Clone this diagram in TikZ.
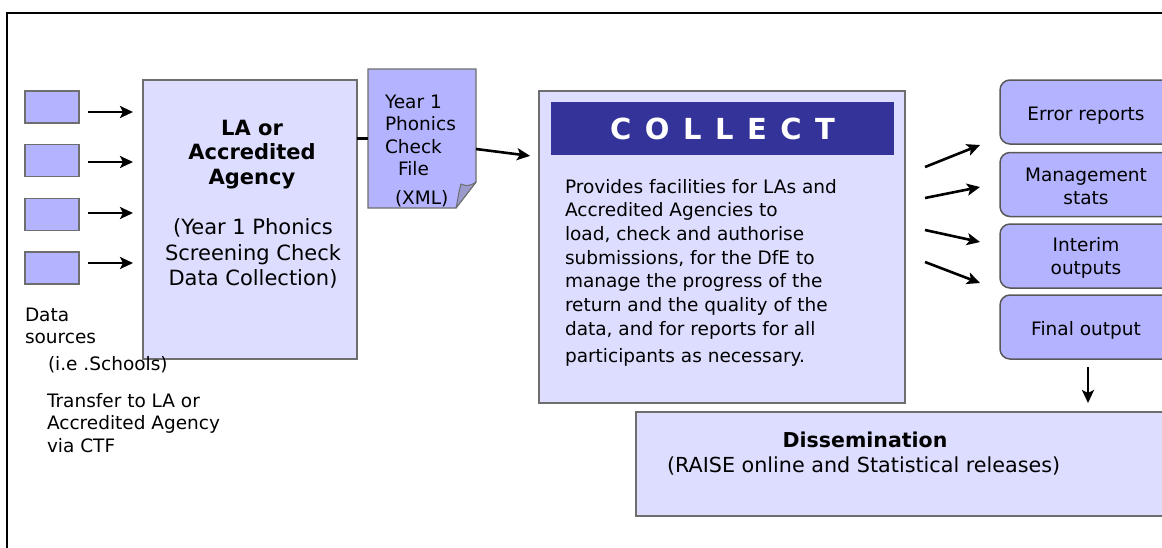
\documentclass[tikz,border=0pt]{standalone}
\usepackage{fontspec}
\setmainfont{DejaVu Sans}
\usetikzlibrary{arrows.meta}

\definecolor{boxpale}{HTML}{DDDDFF}
\definecolor{boxperi}{HTML}{B3B3FF}
\definecolor{boxedge}{HTML}{6E6E6E}
\definecolor{bandnavy}{HTML}{333399}
\definecolor{foldshade}{HTML}{9A9ACC}

\newcommand{\fsz}[2]{\fontsize{#1}{#2}\selectfont}
\newcommand{\gap}{\hspace{13.5pt}}

\begin{document}
\begin{tikzpicture}[x=1pt,y=-1pt,
  every node/.style={inner sep=0pt, outer sep=0pt},
  srcbox/.style={draw=boxedge, line width=1.5pt, fill=boxperi, minimum width=54pt, minimum height=32pt},
  pale/.style={draw=boxedge, line width=1.2pt, fill=boxpale},
  outbox/.style={draw=boxedge!80!black, line width=1.5pt, fill=boxperi, rounded corners=10pt,
    minimum width=172pt, minimum height=64pt},
  outtxt/.style={align=center, font=\fsz{18.5}{23}},
  arr/.style={-{Stealth[length=13pt,width=12pt,inset=3pt]}, line width=2.6pt},
  link/.style={line width=2.4pt},
  txt/.style={font=\fsz{18.5}{22.5}, align=left},
]
\useasboundingbox (0,0) rectangle (1162,547);

% outer frame
\draw[line width=2pt] (7,550) -- (7,13) -- (1170,13);

% data sources
\node[srcbox] (s1) at (52,107) {};
\node[srcbox] (s2) at (52,160.5) {};
\node[srcbox] (s3) at (52,214.5) {};
\node[srcbox] (s4) at (52,268) {};

% LA or accredited agency
\node[pale, minimum width=214pt, minimum height=279pt] (la) at (250,219.5) {};
\node[anchor=north, font=\bfseries\fsz{21}{24.5}, align=center] (latitle) at (252,120) {LA or\\Accredited\\Agency};
\node[anchor=north, font=\fsz{21}{25.5}, align=center] (lasub) at (253,219) {(Year 1 Phonics\\Screening Check\\Data Collection)};

\foreach \i/\dy in {1/-5,2/-1.5,3/1.5,4/5}
  \draw[arr, shorten <=9pt, shorten >=10pt] ([yshift=\dy pt]s\i.east) -- ([yshift=\dy pt]s\i.east -| la.west);

% labels under the sources
\node[anchor=north west, txt] (srclbl) at (25,308) {Data\\sources};
\node[anchor=north west, txt] (schools) at (48,356) {(i.e .Schools)};
\node[anchor=north west, txt] (ctf) at (47,393) {Transfer to LA or\\Accredited Agency\\via CTF};

% XML file (dog-eared page)
\node[minimum width=108pt, minimum height=139pt] (file) at (422,138.5) {};
\draw[fill=boxperi, draw=boxedge, line width=1.2pt]
  (file.north west) -- (file.north east) -- ([yshift=26pt]file.south east)
  -- ([xshift=-20pt]file.south east) -- (file.south west) -- cycle;
\draw[fill=foldshade, draw=boxedge, line width=1pt, line join=round]
  (456,208) .. controls (458,199) and (459,190) .. (461,184)
  .. controls (467,187) and (472,185) .. (476,182) -- cycle;
\node[anchor=north west, txt] (filetxt) at (385,95)
  {Year 1\\Phonics\\Check\\\hspace*{13pt}File\\[6.5pt]\hspace*{10pt}(XML)};

\draw[link] (la.east |- file.west) -- (file.west);

% COLLECT
\node[pale, minimum width=366pt, minimum height=312pt] (collect) at (722,247) {};
\node[fill=bandnavy, minimum width=343pt, minimum height=53pt, text=white,
  font=\bfseries\fsz{29}{34}] (band) at (722.5,128.5)
  {C\gap O\gap L\gap L\gap E\gap C\gap T};
\node[anchor=north west, txt, font=\fsz{18.5}{23.7}] (body) at (565,179)
  {Provides facilities for LAs and\\Accredited Agencies to\\load, check and authorise\\submissions, for the DfE to\\manage the progress of the\\return and the quality of the\\data, and for reports for all\\[4pt]participants as necessary.};

\draw[arr, shorten >=9pt] ([yshift=-10.5pt]file.east) -- ([yshift=90pt]collect.west);

% outputs
\node[outbox] (o1) at (1086,112) {};
\node[outbox] (o2) at (1086,184.5) {};
\node[outbox] (o3) at (1086,256) {};
\node[outbox] (o4) at (1086,327) {};
\node[outtxt] (t1) at ([yshift=-3.5pt]o1) {Error reports};
\node[outtxt] (t2) at ([yshift=-1.5pt]o2) {Management\\stats};
\node[outtxt] (t3) at ([yshift=-2pt]o3) {Interim\\outputs};
\node[outtxt] (t4) at ([yshift=-3pt]o4) {Final output};

\draw[arr] ([shift={(20,-80)}]collect.east) -- ([shift={(-20,33)}]o1.west);
\draw[arr] ([shift={(20,-49)}]collect.east) -- ([shift={(-20,2.5)}]o2.west);
\draw[arr] ([shift={(20,-17)}]collect.east) -- ([shift={(-20,-14)}]o3.west);
\draw[arr] ([shift={(20,15)}]collect.east) -- ([shift={(-20,-44)}]o4.west);

% dissemination
\node[pale, minimum width=544pt, minimum height=104pt] (diss) at (908,464) {};
\node[anchor=base, font=\bfseries\fsz{20.5}{24}] (disstitle) at (865,447) {Dissemination};
\node[anchor=base west, font=\fsz{20.7}{24}] (disssub) at (667,472) {(RAISE online and Statistical releases)};

\draw[arr, shorten <=8pt, shorten >=9pt] ([xshift=2pt]o4.south) -- ([xshift=2pt]o4.south |- diss.north);
\end{tikzpicture}
\end{document}
